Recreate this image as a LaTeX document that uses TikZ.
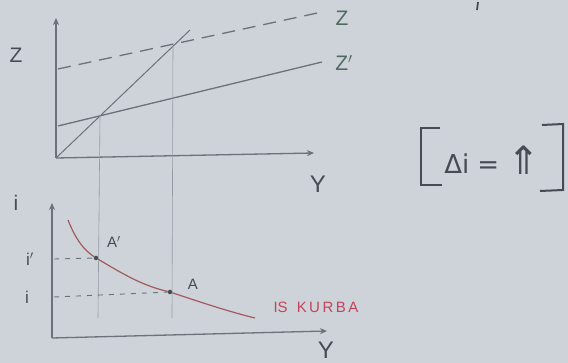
\documentclass[tikz,border=0pt]{standalone}
\usepackage{fontspec}
\setmainfont{Liberation Sans}
\newfontfamily\symfont{DejaVu Sans}
\usetikzlibrary{arrows.meta}
\definecolor{paper}{HTML}{CDD3D8}
\definecolor{pencil}{HTML}{6A727A}
\definecolor{thinpen}{HTML}{959DA4}
\definecolor{zgreen}{HTML}{4F6A60}
\definecolor{curvered}{HTML}{A35A5E}
\definecolor{isred}{HTML}{C4445A}
\definecolor{ink}{HTML}{474B55}
\tikzset{
  axis/.style={draw=pencil, line width=1.3pt, -{Stealth[length=7pt,width=6pt]}},
  guide/.style={draw=thinpen, line width=0.6pt},
  dguide/.style={draw=pencil, line width=0.9pt, dash pattern=on 5pt off 6pt},
  lbl/.style={text=ink, inner sep=0pt, font=\fontsize{21}{21}\selectfont},
  zlbl/.style={text=zgreen, inner sep=0pt, font=\fontsize{21}{21}\selectfont},
  pt/.style={circle, fill=ink, inner sep=0pt, minimum size=4.5pt},
}
\begin{document}
\begin{tikzpicture}[x=1pt,y=-1pt]
\fill[paper] (0,0) rectangle (568,363);
\useasboundingbox (0,0) rectangle (568,363);

% ---------- top diagram ----------
\coordinate (O1) at (56,158);
\coordinate (Y1top) at (56,18);
\coordinate (X1end) at (314,153);
\draw[axis] (O1) -- (Y1top);
\draw[axis] (O1) -- (X1end);

% 45-degree line
\coordinate (Dend) at (190,30);
\draw[pencil, line width=1pt] (O1) -- (Dend);

% dashed Z line
\coordinate (Zs) at (58,69);
\coordinate (Ze) at (322,12);
\draw[pencil, line width=1.3pt, dash pattern=on 13pt off 8pt] (Zs) -- (Ze);

% solid Z' line
\coordinate (Zps) at (58,126);
\coordinate (Zpe) at (322,62);
\draw[pencil, line width=1.3pt] (Zps) -- (Zpe);

% intersections & guides
\coordinate (I1) at (100,115);
\coordinate (I2) at (173,46);
\coordinate (G1) at (98,318);
\coordinate (G2) at (172,318);
\draw[guide] (I1) -- (G1);
\draw[guide] (I2) -- (G2);

\node[lbl] (Zleft) at (16,55) {Z};
\node[zlbl] (Ztop) at (342,18) {Z};
\node[zlbl] (Zprime) at (344,63) {Z$'$};
\node[lbl, font=\fontsize{24}{24}\selectfont] (Ytop) at (318,184) {Y};

% ---------- bottom diagram ----------
\coordinate (O2) at (52,338);
\coordinate (Y2top) at (52,203);
\coordinate (X2end) at (327,331);
\draw[axis] (O2) -- (Y2top);
\draw[axis] (O2) -- (X2end);

\node[pt] (Ap) at (96,258) {};
\node[pt] (A) at (170,292) {};
\coordinate (Cs) at (68,220);
\coordinate (Ce) at (255,318);
\draw[curvered, line width=1.2pt] (Cs) .. controls (76,240) and (84,250) .. (Ap)
  .. controls (120,272) and (140,285) .. (A)
  .. controls (200,302) and (230,312) .. (Ce);

\coordinate (Lp) at (54,259);
\coordinate (L) at (54,297);
\draw[dguide] (Lp) -- (Ap);
\draw[dguide] (L) -- (A);

\node[lbl, font=\fontsize{15}{15}\selectfont] (Apl) at (114,242) {A$'$};
\node[lbl, font=\fontsize{15}{15}\selectfont] (Al) at (193,284) {A};
\node[lbl] (ilbl) at (16,203) {i};
\node[lbl, font=\fontsize{17}{17}\selectfont] (iprime) at (30,259) {i$'$};
\node[lbl, font=\fontsize{17}{17}\selectfont] (ibase) at (27,297) {i};
\node[lbl, font=\fontsize{24}{24}\selectfont] (Ybot) at (326,350) {Y};
\node[text=isred, inner sep=0pt, font=\fontsize{15}{15}\selectfont] (IS) at (316,307) {IS\hspace{9pt}K\,U\,R\,B\,A};

% ---------- bracket note ----------
\coordinate (Bl1) at (440,128);
\coordinate (Bl2) at (421,128);
\coordinate (Bl3) at (421,185);
\coordinate (Bl4) at (442,185);
\draw[ink, line width=2pt] (Bl1) -- (Bl2) -- (Bl3) -- (Bl4);
\coordinate (Br1) at (542,125);
\coordinate (Br2) at (563,124);
\coordinate (Br3) at (563,190);
\coordinate (Br4) at (540,191);
\draw[ink, line width=2pt] (Br1) -- (Br2) -- (Br3) -- (Br4);
\node[text=ink, inner sep=0pt, font=\symfont\fontsize{26}{26}\selectfont] (eq) at (492,160) {Δi\hspace{8pt}=\hspace{8pt}\raisebox{-1pt}{\scalebox{1.5}{⇑}}};

% small stroke at top
\coordinate (m1) at (478,2);
\coordinate (m2) at (477,10);
\draw[ink, line width=1.8pt] (m1) -- (m2);
\end{tikzpicture}
\end{document}
